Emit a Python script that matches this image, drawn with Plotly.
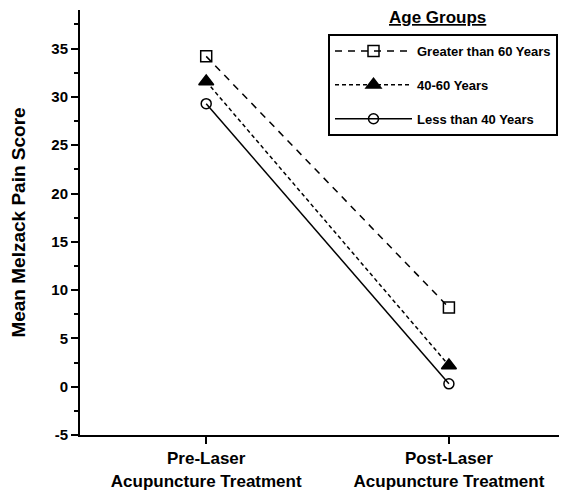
import plotly.graph_objects as go

phases = ["Pre-Laser<br>Acupuncture Treatment", "Post-Laser<br>Acupuncture Treatment"]
phase_pos = [0, 1]
groups = ["Greater than 60 Years", "40-60 Years", "Less than 40 Years"]
gt60 = [34.2, 8.2]
mid = [31.6, 2.2]
lt40 = [29.3, 0.3]
y_ticks = [-5, 0, 5, 10, 15, 20, 25, 30, 35]
y_ticktext = ["-5", "0", "5", "10", "15", "20", "25", "30", "35"]

FONT = "Liberation Sans"
series = [
    (groups[0], gt60, "square-open", "7px,6px", 11),
    (groups[1], mid, "triangle-up", "4px,3px", 13),
    (groups[2], lt40, "circle-open", "solid", 10),
]

fig = go.Figure()
for i, (name, vals, sym, dash, size) in enumerate(series):
    fig.add_trace(go.Scatter(
        x=phase_pos, y=vals, name=name, mode="lines+markers",
        legendgroup=f"g{i}",
        line=dict(color="black", width=1.5, dash=dash),
        marker=dict(symbol=sym, size=size, color="black",
                    line=dict(color="black", width=1.5)),
    ))

OFF = 8  # page body margin
W, H = 567, 492
# plot area in page pixels
X0, X1, Y0, Y1 = 80, 563, 10, 435
L, T = X0 - OFF, Y0 - OFF
R, B = W - (X1 - OFF), H - (Y1 - OFF)
PW, PH = X1 - X0, Y1 - Y0

def px(x):
    return (x - X0) / PW

def py(y):
    return 1 - (y - Y0) / PH

fig.update_layout(
    width=W, height=H,
    margin=dict(l=L, r=R, t=T, b=B, autoexpand=False),
    paper_bgcolor="white", plot_bgcolor="white",
    font=dict(family=FONT, color="black", size=16, weight="bold"),
    showlegend=True,
    legend=dict(
        x=px(328), y=py(34), xanchor="left", yanchor="top",
        bordercolor="black", borderwidth=2, bgcolor="white",
        font=dict(family=FONT, size=13, weight="bold"),
        tracegroupgap=14, itemwidth=77,
    ),
    xaxis=dict(
        range=[-0.52, 1.47], tickvals=phase_pos, ticktext=phases, tickangle=0,
        showline=True, linecolor="black", linewidth=2,
        ticks="outside", ticklen=7, tickwidth=1.5, tickcolor="black",
        showgrid=False, zeroline=False,
        tickfont=dict(family=FONT, size=17, weight="bold"),
    ),
    xaxis2=dict(
        overlaying="x", range=[-0.52, 1.47], tickvals=phase_pos,
        showticklabels=False, ticks="inside", ticklen=7, tickwidth=1.5,
        tickcolor="black", showgrid=False, zeroline=False, showline=False,
    ),
    yaxis=dict(
        range=[-5, 39], tickvals=y_ticks, ticktext=y_ticktext,
        showline=True, linecolor="black", linewidth=2,
        ticks="outside", ticklen=7, tickwidth=1.5, tickcolor="black",
        minor=dict(dtick=2.5, tick0=-5, ticks="outside", ticklen=4, tickwidth=1.5, tickcolor="black"),
        showgrid=False, zeroline=False,
        tickfont=dict(family=FONT, size=15, weight="bold"),
        title=dict(text="Mean Melzack Pain Score", standoff=22,
                   font=dict(family=FONT, size=19, weight="bold")),
    ),
    annotations=[dict(
        text="<u>Age Groups</u>", xref="paper", yref="paper",
        x=px(437), y=py(18), xanchor="center", yanchor="middle",
        showarrow=False, font=dict(family=FONT, size=17, weight="bold"),
    )],
)

fig.write_html("out.html")
